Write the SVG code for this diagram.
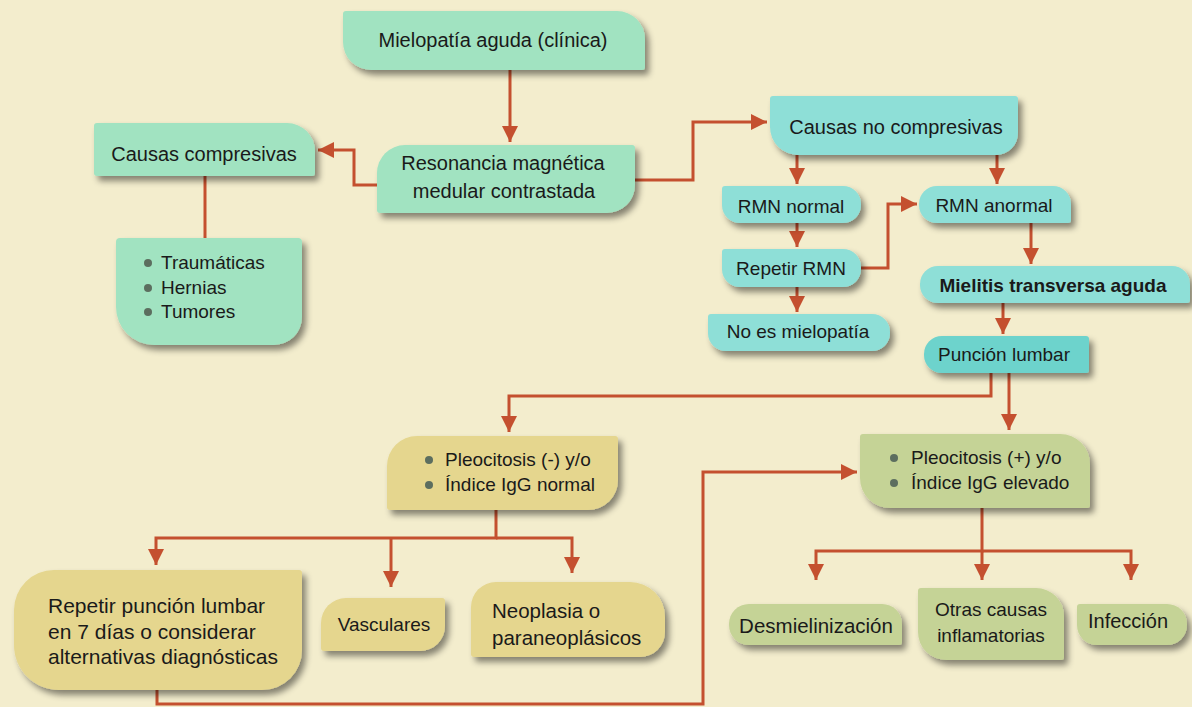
<svg xmlns="http://www.w3.org/2000/svg" width="1192" height="707" viewBox="0 0 1192 707">
<defs>
<filter id="sh" x="-10%" y="-20%" width="130%" height="160%">
<feDropShadow dx="4" dy="5" stdDeviation="3" flood-color="#000" flood-opacity="0.45"/>
</filter>
<marker id="ar" viewBox="0 0 10 10" refX="10" refY="5" markerWidth="16" markerHeight="17" markerUnits="userSpaceOnUse" orient="auto">
<path d="M0,0 L10,5 L0,10 Z" fill="#c4502f"/>
</marker>
</defs>
<style>
.mint{fill:#a1e3c1;filter:url(#sh)}
.teal{fill:#8edfd7;filter:url(#sh)}
.teal2{fill:#6dd3cc;filter:url(#sh)}
.tan{fill:#e5d68e;filter:url(#sh)}
.olive{fill:#c5d396;filter:url(#sh)}
text{font-family:"Liberation Sans",Arial,sans-serif;fill:#1a1a1a}
.t21{font-size:21px}
.t205{font-size:20.5px}
.t20{font-size:20px}
.t19{font-size:19px}
.c{text-anchor:middle}
.b{font-weight:bold}
.dot{fill:#5c6e5f}
.ln{fill:none;stroke:#c4502f;stroke-width:3}
</style>
<rect x="0" y="0" width="1192" height="707" fill="#f3edcd"/>
<g id="connectors">
<path class="ln" d="M510,70 V142" marker-end="url(#ar)"/>
<path class="ln" d="M377,185 H354 V150 H318" marker-end="url(#ar)"/>
<path class="ln" d="M205,176 V238"/>
<path class="ln" d="M635,180 H693 V122 H767" marker-end="url(#ar)"/>
<path class="ln" d="M797,155 V184" marker-end="url(#ar)"/>
<path class="ln" d="M997,155 V184" marker-end="url(#ar)"/>
<path class="ln" d="M797,223 V247" marker-end="url(#ar)"/>
<path class="ln" d="M797,287 V312" marker-end="url(#ar)"/>
<path class="ln" d="M861,268 H888 V204 H917" marker-end="url(#ar)"/>
<path class="ln" d="M1031,223 V264" marker-end="url(#ar)"/>
<path class="ln" d="M1003,303 V334" marker-end="url(#ar)"/>
<path class="ln" d="M991,373 V396 H509 V432" marker-end="url(#ar)"/>
<path class="ln" d="M1009,373 V430" marker-end="url(#ar)"/>
<path class="ln" d="M496,510 V538 H156 V565" marker-end="url(#ar)"/>
<path class="ln" d="M391,538 V587" marker-end="url(#ar)"/>
<path class="ln" d="M496,538 H572 V573" marker-end="url(#ar)"/>
<path class="ln" d="M982,508 V551 H816 V580" marker-end="url(#ar)"/>
<path class="ln" d="M982,551 V580" marker-end="url(#ar)"/>
<path class="ln" d="M982,551 H1131 V580" marker-end="url(#ar)"/>
<path class="ln" d="M157,690 V704 H703 V472 H857" marker-end="url(#ar)"/>
</g>
<g id="n-mielopatia">
<path class="mint" d="M346,11 H617 A28,28 0 0 1 645,39 V67 A3,3 0 0 1 642,70 H371 A28,28 0 0 1 343,42 V14 A3,3 0 0 1 346,11 Z"/>
<text class="t20 c" x="493" y="47">Mielopatía aguda (clínica)</text>
</g>
<g id="n-resonancia">
<path class="mint" d="M405,145 H632 A3,3 0 0 1 635,148 V185 A28,28 0 0 1 607,213 H380 A3,3 0 0 1 377,210 V173 A28,28 0 0 1 405,145 Z"/>
<text class="t20 c" x="503" y="170">Resonancia magnética</text>
<text class="t20 c" x="504" y="198">medular contrastada</text>
</g>
<g id="n-compresivas">
<path class="mint" d="M97,123 H287 A28,28 0 0 1 315,151 V173 A3,3 0 0 1 312,176 H97 A3,3 0 0 1 94,173 V126 A3,3 0 0 1 97,123 Z"/>
<text class="t20 c" x="204" y="161">Causas compresivas</text>
</g>
<g id="n-compresivas-lista">
<path class="mint" d="M120,238 H298 A4,4 0 0 1 302,242 V317 A28,28 0 0 1 274,345 H154 A38,38 0 0 1 116,307 V242 A4,4 0 0 1 120,238 Z"/>
<circle class="dot" cx="148" cy="263" r="4"/>
<circle class="dot" cx="148" cy="288" r="4"/>
<circle class="dot" cx="148" cy="312" r="4"/>
<text class="t19" x="161" y="269">Traumáticas</text>
<text class="t19" x="161" y="294">Hernias</text>
<text class="t19" x="161" y="318">Tumores</text>
</g>
<g id="n-no-compresivas">
<path class="teal" d="M773,96 H1015 A3,3 0 0 1 1018,99 V133 A22,22 0 0 1 996,155 H798 A28,28 0 0 1 770,127 V99 A3,3 0 0 1 773,96 Z"/>
<text class="t20 c" x="896" y="134">Causas no compresivas</text>
</g>
<g id="n-rmn-normal">
<path class="teal" d="M725,186 H843 A18,18 0 0 1 861,204 V205 A18,18 0 0 1 843,223 H740 A18,18 0 0 1 722,205 V189 A3,3 0 0 1 725,186 Z"/>
<text class="t19 c" x="791" y="213">RMN normal</text>
</g>
<g id="n-repetir-rmn">
<path class="teal" d="M725,249 H843 A18,18 0 0 1 861,267 V269 A18,18 0 0 1 843,287 H740 A18,18 0 0 1 722,269 V252 A3,3 0 0 1 725,249 Z"/>
<text class="t19 c" x="791" y="275">Repetir RMN</text>
</g>
<g id="n-no-mielopatia">
<path class="teal" d="M711,314 H872 A18,18 0 0 1 890,332 V333 A18,18 0 0 1 872,351 H726 A18,18 0 0 1 708,333 V317 A3,3 0 0 1 711,314 Z"/>
<text class="t19 c" x="798" y="338">No es mielopatía</text>
</g>
<g id="n-rmn-anormal">
<path class="teal" d="M937,186 H1053 A18,18 0 0 1 1071,204 V220 A3,3 0 0 1 1068,223 H937 A18,18 0 0 1 919,205 V204 A18,18 0 0 1 937,186 Z"/>
<text class="t19 c" x="994" y="212">RMN anormal</text>
</g>
<g id="n-mielitis">
<path class="teal" d="M938,266 H1172 A18,18 0 0 1 1190,284 V300 A3,3 0 0 1 1187,303 H938 A18,18 0 0 1 920,285 V284 A18,18 0 0 1 938,266 Z"/>
<text class="t19 c b" x="1053" y="292">Mielitis transversa aguda</text>
</g>
<g id="n-puncion">
<path class="teal2" d="M942,336 H1086 A3,3 0 0 1 1089,339 V370 A3,3 0 0 1 1086,373 H942 A18,18 0 0 1 924,355 V354 A18,18 0 0 1 942,336 Z"/>
<text class="t19 c" x="1004" y="361">Punción lumbar</text>
</g>
<g id="n-pleo-neg">
<path class="tan" d="M417,436 H615 A3,3 0 0 1 618,439 V480 A30,30 0 0 1 588,510 H390 A3,3 0 0 1 387,507 V466 A30,30 0 0 1 417,436 Z"/>
<circle class="dot" cx="429" cy="460" r="4"/>
<circle class="dot" cx="429" cy="485" r="4"/>
<text class="t19" x="445" y="466">Pleocitosis (-) y/o</text>
<text class="t19" x="445" y="491">Índice IgG normal</text>
</g>
<g id="n-pleo-pos">
<path class="olive" d="M863,434 H1060 A30,30 0 0 1 1090,464 V505 A3,3 0 0 1 1087,508 H890 A30,30 0 0 1 860,478 V437 A3,3 0 0 1 863,434 Z"/>
<circle class="dot" cx="894" cy="458" r="4"/>
<circle class="dot" cx="894" cy="483" r="4"/>
<text class="t19" x="911" y="464">Pleocitosis (+) y/o</text>
<text class="t19" x="911" y="489">Índice IgG elevado</text>
</g>
<g id="n-repetir-puncion">
<path class="tan" d="M54,570 H299 A3,3 0 0 1 302,573 V650 A40,40 0 0 1 262,690 H59 A45,45 0 0 1 14,645 V610 A40,40 0 0 1 54,570 Z"/>
<text class="t21" x="48" y="613">Repetir punción lumbar</text>
<text class="t21" x="48" y="639">en 7 días o considerar</text>
<text class="t21" x="48" y="664">alternativas diagnósticas</text>
</g>
<g id="n-vasculares">
<path class="tan" d="M346,598 H442 A3,3 0 0 1 445,601 V626 A25,25 0 0 1 420,651 H324 A3,3 0 0 1 321,648 V623 A25,25 0 0 1 346,598 Z"/>
<text class="t19 c" x="384" y="631">Vasculares</text>
</g>
<g id="n-neoplasia">
<path class="tan" d="M496,582 H630 A35,35 0 0 1 665,617 V632 A25,25 0 0 1 640,657 H474 A3,3 0 0 1 471,654 V607 A25,25 0 0 1 496,582 Z"/>
<text class="t205" x="492" y="618">Neoplasia o</text>
<text class="t205" x="492" y="645">paraneoplásicos</text>
</g>
<g id="n-desmielinizacion">
<path class="olive" d="M749,604 H882 A20,20 0 0 1 902,624 V642 A3,3 0 0 1 899,645 H749 A20,20 0 0 1 729,625 V624 A20,20 0 0 1 749,604 Z"/>
<text class="t205 c" x="816" y="633">Desmielinización</text>
</g>
<g id="n-otras">
<path class="olive" d="M921,588 H1036 A28,28 0 0 1 1064,616 V657 A3,3 0 0 1 1061,660 H946 A28,28 0 0 1 918,632 V591 A3,3 0 0 1 921,588 Z"/>
<text class="t19 c" x="991" y="616">Otras causas</text>
<text class="t19 c" x="991" y="642">inflamatorias</text>
</g>
<g id="n-infeccion">
<path class="olive" d="M1080,604 H1167 A20,20 0 0 1 1187,624 V625 A20,20 0 0 1 1167,645 H1097 A20,20 0 0 1 1077,625 V607 A3,3 0 0 1 1080,604 Z"/>
<text class="t20 c" x="1128" y="628">Infección</text>
</g>
</svg>
